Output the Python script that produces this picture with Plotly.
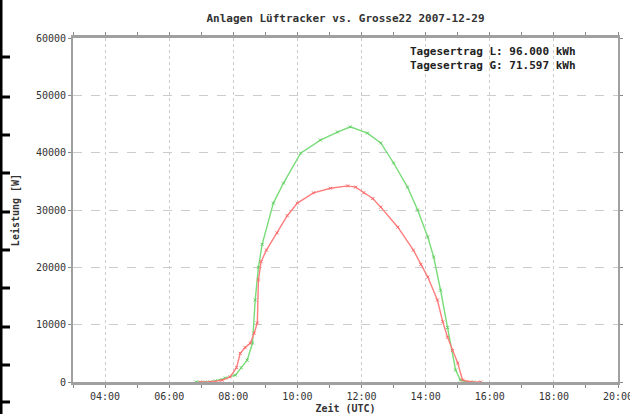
import plotly.graph_objects as go

# ---- data ----
day = "2007-12-29"
green_times = ["06:50", "07:07", "07:26", "07:45", "08:04", "08:15", "08:26", "08:36", "08:41",
               "08:47", "08:54", "09:15", "09:34", "10:06", "10:43", "11:15", "11:39", "12:11",
               "12:36", "13:00", "13:26", "13:45", "14:04", "14:15", "14:28", "14:41", "14:56",
               "15:05", "15:15", "15:30"]
green_vals = [0, 0, 200, 700, 1200, 2500, 3800, 6800, 14300,
              20000, 24000, 31200, 34700, 39900, 42200, 43600, 44500, 43400,
              41700, 38200, 34000, 30000, 25300, 21800, 16000, 9500, 2100,
              350, 0, 0]

red_times = ["06:58", "07:17", "07:39", "07:54", "08:06", "08:13", "08:22", "08:32", "08:39",
             "08:45", "08:47", "08:52", "09:02", "09:22", "09:41", "10:00", "10:30", "11:02",
             "11:34", "11:49", "12:04", "12:21", "12:36", "13:08", "13:37", "13:51", "14:04",
             "14:22", "14:32", "14:41", "14:50", "15:00", "15:09", "15:24", "15:43"]
red_vals = [0, 0, 300, 900, 2500, 5000, 6000, 6800, 8500,
            10300, 17800, 21000, 23000, 26000, 29000, 31200, 33000, 33800,
            34200, 34000, 33000, 32000, 30500, 27000, 23000, 20500, 18300,
            14300, 10500, 7800, 5500, 3300, 350, 0, 0]

title_text = "Anlagen Lüftracker vs. Grosse22 2007-12-29"
legend_lines = ["Tagesertrag L: 96.000 kWh", "Tagesertrag G: 71.597 kWh"]
x_label = "Zeit (UTC)"
y_label = "Leistung [W]"

FONT = "DejaVu Sans Mono"

fig = go.Figure()
fig.add_trace(go.Scatter(
    x=[f"{day} {t}" for t in green_times], y=green_vals, mode="lines+markers",
    line=dict(color="rgb(120,220,120)", width=1.4),
    marker=dict(symbol="x-thin", size=3, color="rgb(100,205,100)", line=dict(width=1, color="rgb(100,205,100)")),
    showlegend=False))
fig.add_trace(go.Scatter(
    x=[f"{day} {t}" for t in red_times], y=red_vals, mode="lines+markers",
    line=dict(color="rgb(255,125,125)", width=1.4),
    marker=dict(symbol="x-thin", size=3, color="rgb(245,105,105)", line=dict(width=1, color="rgb(245,105,105)")),
    showlegend=False))

fig.update_layout(
    width=630, height=414,
    margin=dict(l=73, r=12, t=38, b=32, autoexpand=False),
    paper_bgcolor="white", plot_bgcolor="white",
    font=dict(family=FONT, size=10, color="#333"),
    title=dict(text="<b>" + title_text + "</b>", x=0.5485, xanchor="center", y=0.957, yanchor="middle",
               font=dict(family=FONT, size=11, color="#333")),
    xaxis=dict(
        type="date", automargin=False,
        range=[f"{day} 03:00", f"{day} 20:00"],
        dtick=7200000, tick0=f"{day} 00:00", tickformat="%H:%M",
        showgrid=True, gridcolor="#cccccc", griddash="dot", gridwidth=1,
        showline=True, linecolor="#a0a0a0", linewidth=3, mirror="allticks",
        ticks="outside", ticklen=3, tickcolor="#888",
        minor=dict(dtick=3600000, ticks="outside", ticklen=3, tickcolor="#888", showgrid=False),
        tickfont=dict(family=FONT, size=10, color="#333"),
        ticklabeloverflow="allow",
        title=dict(text="<b>" + x_label + "</b>", standoff=4, font=dict(family=FONT, size=10, color="#333")),
        zeroline=False,
    ),
    yaxis=dict(
        automargin=False,
        range=[0, 60000], dtick=10000, tickformat="d",
        showgrid=True, gridcolor="#cccccc", griddash="dash", gridwidth=1,
        showline=True, linecolor="#a0a0a0", linewidth=2, mirror="allticks",
        ticks="outside", ticklen=3, tickcolor="#888",
        tickfont=dict(family=FONT, size=10, color="#333"),
        title=dict(text="<b>" + y_label + "</b>", standoff=14, font=dict(family=FONT, size=10, color="#333")),
        zeroline=False,
    ),
)

fig.add_annotation(
    xref="paper", yref="paper", x=0.615, y=0.985, xanchor="left", yanchor="top",
    text="<b>" + "<br>".join(legend_lines) + "</b>", align="left", showarrow=False,
    font=dict(family=FONT, size=11, color="#222"))

# frame artifact at the left edge of the image
pw, ph, ml, mb = 545, 344, 73, 32
def px_x(p):
    return (p - ml) / pw
def px_y(p):
    return (414 - mb - p) / ph
fig.add_shape(type="line", xref="paper", yref="paper", x0=px_x(1), x1=px_x(1), y0=px_y(0), y1=px_y(414),
              line=dict(color="black", width=3))
for ty in [57, 97, 135, 173, 212, 250, 288, 327, 365, 402]:
    fig.add_shape(type="line", xref="paper", yref="paper", x0=px_x(0), x1=px_x(10), y0=px_y(ty), y1=px_y(ty),
                  line=dict(color="black", width=3))

fig.write_html("out.html", config={"displayModeBar": False},
               post_script="document.body.style.margin='0';document.body.style.padding='0';document.body.style.overflow='hidden';")
